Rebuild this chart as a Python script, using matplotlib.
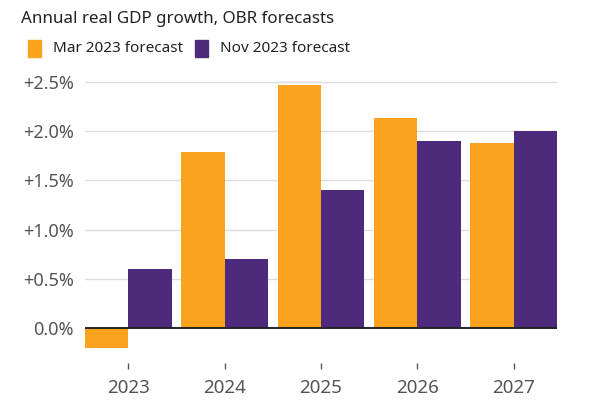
import matplotlib
matplotlib.use("Agg")
import matplotlib.pyplot as plt
import numpy as np
from matplotlib.patches import Rectangle

years = ["2023", "2024", "2025", "2026", "2027"]
mar_2023 = [-0.2, 1.79, 2.46, 2.13, 1.88]
nov_2023 = [0.6, 0.7, 1.4, 1.9, 2.0]
y_ticks = [0.0, 0.5, 1.0, 1.5, 2.0, 2.5]
y_labels = ["0.0%", "+0.5%", "+1.0%", "+1.5%", "+2.0%", "+2.5%"]
series_names = ["Mar 2023 forecast", "Nov 2023 forecast"]

ORANGE = "#FBA31E"
PURPLE = "#4E2A7C"
GREY = "#555555"

plt.rcParams['font.family'] = ['Noto Sans', 'DejaVu Sans']

fig = plt.figure(figsize=(6, 4), dpi=100)
ax = fig.add_axes([85/600, 1-362.8/400, (557-85)/600, (362.8-61.8)/400])

x = np.arange(len(years))
w = 0.45
ax.bar(x - w/2, mar_2023, width=w, color=ORANGE, zorder=2)
ax.bar(x + w/2, nov_2023, width=w, color=PURPLE, zorder=2)

ax.set_xlim(-0.45, len(years) - 1 + 0.45)
ax.set_ylim(-0.35, 2.7)
ax.set_yticks(y_ticks)
ax.set_yticklabels(y_labels)
ax.set_xticks(x)
ax.set_xticklabels(years)

for v in y_ticks[1:]:
    ax.axhline(v, color="#dddddd", lw=1, zorder=1)
ax.axhline(0, color="#222222", lw=1.4, zorder=3)

for s in ax.spines.values():
    s.set_visible(False)
ax.tick_params(axis='y', length=0, pad=8, labelsize=13, labelcolor=GREY)
ax.tick_params(axis='x', length=4.5, width=1, color=GREY, pad=7, labelsize=13.5, labelcolor=GREY)

fig.text(21/600, 1-19/400, "Annual real GDP growth, OBR forecasts", fontsize=12.2, color="#222222", va="center", ha="left")

fig.patches.append(Rectangle((28/600, 1-57/400), 13/600, 17/400, transform=fig.transFigure, color=ORANGE))
fig.text(53/600, 1-48.5/400, series_names[0], fontsize=11, color="#222222", va="center", ha="left")
fig.patches.append(Rectangle((195/600, 1-57/400), 13/600, 17/400, transform=fig.transFigure, color=PURPLE))
fig.text(220/600, 1-48.5/400, series_names[1], fontsize=11, color="#222222", va="center", ha="left")

fig.savefig("out.png", dpi=100)
